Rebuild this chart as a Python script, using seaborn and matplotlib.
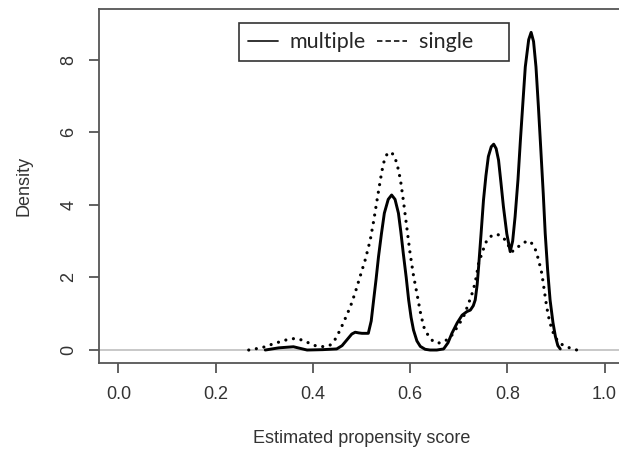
import pandas as pd
import seaborn as sns
import matplotlib.pyplot as plt
from matplotlib.lines import Line2D

sns.set_style("ticks")
plt.rcParams["font.family"] = ["Liberation Sans", "DejaVu Sans"]

# density curves
multiple_x = [0.302, 0.330, 0.360, 0.388, 0.420, 0.449, 0.460, 0.470, 0.480, 0.487,
              0.495, 0.501, 0.514, 0.520, 0.525, 0.530, 0.535, 0.541, 0.547, 0.555,
              0.562, 0.569, 0.576, 0.581, 0.586, 0.592, 0.597, 0.602, 0.607, 0.614,
              0.621, 0.631, 0.641, 0.655, 0.669, 0.678, 0.686, 0.697, 0.707, 0.717,
              0.724, 0.730, 0.734, 0.738, 0.741, 0.746, 0.751, 0.756, 0.761, 0.767,
              0.772, 0.777, 0.782, 0.787, 0.792, 0.799, 0.806, 0.811, 0.816, 0.822,
              0.827, 0.832, 0.837, 0.844, 0.849, 0.854, 0.859, 0.864, 0.869, 0.874,
              0.878, 0.883, 0.888, 0.894, 0.899, 0.904, 0.909]
multiple_y = [0.00, 0.06, 0.09, 0.00, 0.01, 0.03, 0.12, 0.28, 0.44, 0.49,
              0.47, 0.46, 0.46, 0.80, 1.38, 1.95, 2.57, 3.20, 3.77, 4.15,
              4.27, 4.15, 3.77, 3.25, 2.66, 2.00, 1.38, 0.90, 0.55, 0.25,
              0.10, 0.02, 0.00, 0.00, 0.03, 0.20, 0.46, 0.75, 0.96, 1.06,
              1.10, 1.22, 1.38, 1.80, 2.30, 3.20, 4.13, 4.80, 5.33, 5.60,
              5.67, 5.55, 5.23, 4.60, 3.95, 3.20, 2.71, 3.00, 3.67, 4.70,
              5.79, 6.80, 7.80, 8.55, 8.75, 8.50, 7.80, 6.70, 5.51, 4.30,
              3.21, 2.20, 1.38, 0.75, 0.37, 0.12, 0.03]

single_x = [0.268, 0.285, 0.302, 0.318, 0.333, 0.348, 0.364, 0.379, 0.394, 0.405,
            0.415, 0.426, 0.436, 0.446, 0.456, 0.466, 0.477, 0.487, 0.497, 0.508,
            0.518, 0.525, 0.532, 0.539, 0.545, 0.552, 0.559, 0.566, 0.573, 0.580,
            0.586, 0.593, 0.600, 0.607, 0.614, 0.621, 0.628, 0.638, 0.648, 0.658,
            0.669, 0.678, 0.686, 0.698, 0.710, 0.720, 0.730, 0.736, 0.741, 0.750,
            0.758, 0.768, 0.779, 0.788, 0.796, 0.803, 0.810, 0.818, 0.827, 0.836,
            0.844, 0.851, 0.857, 0.864, 0.871, 0.876, 0.881, 0.886, 0.892, 0.900,
            0.909, 0.918, 0.926, 0.935, 0.943]
single_y = [0.00, 0.04, 0.09, 0.17, 0.23, 0.29, 0.32, 0.27, 0.18, 0.12,
            0.09, 0.10, 0.14, 0.30, 0.55, 0.85, 1.19, 1.58, 2.02, 2.50,
            3.03, 3.55, 4.13, 4.70, 5.14, 5.38, 5.46, 5.38, 5.14, 4.70,
            4.13, 3.40, 2.66, 2.05, 1.56, 1.05, 0.64, 0.38, 0.23, 0.19,
            0.23, 0.30, 0.41, 0.65, 0.92, 1.27, 1.65, 2.00, 2.39, 2.75,
            3.03, 3.15, 3.19, 3.13, 3.03, 2.86, 2.71, 2.80, 2.89, 2.97,
            3.01, 2.93, 2.80, 2.50, 2.11, 1.65, 1.19, 0.85, 0.55, 0.32,
            0.18, 0.11, 0.07, 0.03, 0.00]

x_ticks = [0.0, 0.2, 0.4, 0.6, 0.8, 1.0]
y_ticks = [0, 2, 4, 6, 8]

df = pd.concat([
    pd.DataFrame({"score": multiple_x, "density": multiple_y, "group": "multiple"}),
    pd.DataFrame({"score": single_x, "density": single_y, "group": "single"}),
])

fig = plt.figure(figsize=(6.19, 4.53), dpi=100)
ax = fig.add_axes([0.160, 0.198, 0.848, 0.7815])

ax.axhline(0, color="#c8c8c8", lw=1.4, zorder=1)

sns.lineplot(data=df, x="score", y="density", style="group",
             dashes={"multiple": "", "single": (0.01, 2.4)},
             color="black", sort=False, estimator=None, legend=False,
             ax=ax, zorder=2)
ax.lines[1].set_linewidth(2.1)
ax.lines[1].set_solid_joinstyle("round")
ax.lines[2].set_linewidth(2.3)
ax.lines[2].set_dash_capstyle("round")

ax.set_xlim(-0.04, 1.04)
ax.set_ylim(-0.366, 9.386)
ax.set_xticks(x_ticks)
ax.set_xticklabels([f"{t:.1f}" for t in x_ticks])
ax.set_yticks(y_ticks)
ax.set_yticklabels([str(t) for t in y_ticks], rotation=90, va="center")

for s in ax.spines.values():
    s.set_color("#555555")
    s.set_linewidth(1.3)
ax.spines["right"].set_visible(False)
ax.tick_params(axis="both", direction="out", length=7.5, width=1.3,
               color="#555555", labelcolor="#333333", labelsize=13)
ax.tick_params(axis="x", pad=9)
ax.tick_params(axis="y", pad=8)

ax.set_xlabel("Estimated propensity score", fontsize=13, color="#333333", va="center")
ax.xaxis.set_label_coords(0.5, -0.213)
ax.set_ylabel("Density", fontsize=13, color="#333333", ha="center", va="center")
ax.yaxis.set_label_coords(-0.143, 0.5)

handles = [Line2D([], [], color="#222222", lw=1.3),
           Line2D([], [], color="#222222", lw=1.3, linestyle=(0, (3, 1.7)))]
leg = ax.legend(handles, ["multiple", "single     "], loc="upper left",
                bbox_to_anchor=(0.2675, 0.960), borderaxespad=0, ncol=2,
                fancybox=False, framealpha=1, edgecolor="#333333",
                prop={"family": "Lato", "size": 15.5}, handlelength=1.4,
                handletextpad=0.54, columnspacing=0.5, borderpad=0.4)
leg.get_frame().set_linewidth(1.2)

fig.savefig("out.png", dpi=100)
